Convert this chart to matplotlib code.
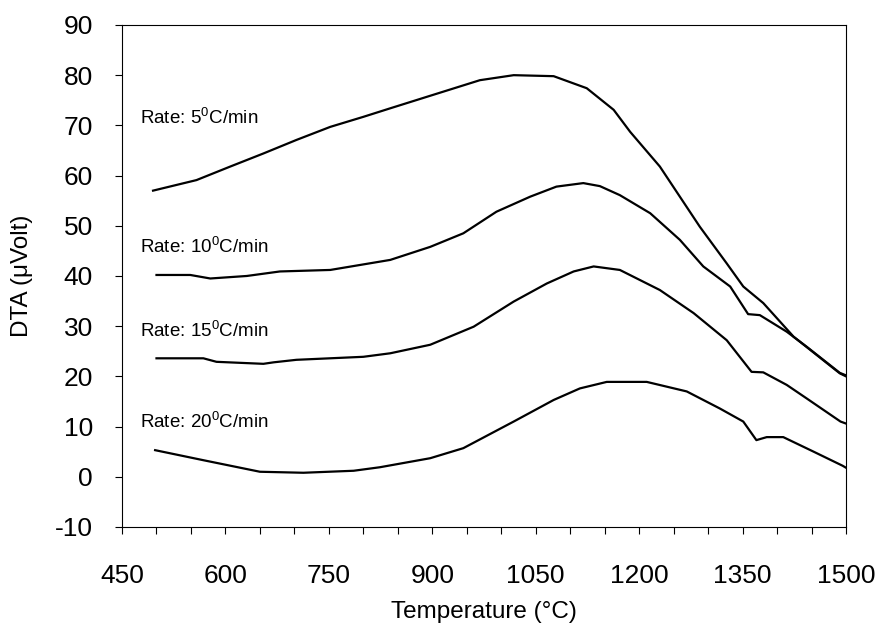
import numpy as np
import matplotlib
matplotlib.use("Agg")
import matplotlib.pyplot as plt
from matplotlib.ticker import MultipleLocator

plt.rcParams['font.family'] = ['Liberation Sans', 'DejaVu Sans']
plt.rcParams['mathtext.fontset'] = 'custom'
plt.rcParams['mathtext.rm'] = 'Liberation Sans'
plt.rcParams['axes.unicode_minus'] = False

# DTA curves (temperature in C, DTA in microvolt)
t_5 = [495, 558, 607, 655, 703, 752, 800, 839, 897, 969, 1018, 1076, 1124, 1163,
       1187, 1230, 1288, 1327, 1351, 1380, 1424, 1491, 1500]
dta_5 = [57.0, 59.1, 61.8, 64.4, 67.1, 69.7, 71.7, 73.4, 75.9, 79.0, 80.0, 79.8, 77.4, 73.1,
         68.7, 61.8, 49.8, 42.5, 37.9, 34.6, 27.9, 20.6, 20.0]

t_10 = [500, 549, 578, 631, 679, 752, 839, 897, 945, 993, 1042, 1080, 1119, 1143, 1172,
        1216, 1259, 1293, 1332, 1358, 1375, 1414, 1443, 1491, 1500]
dta_10 = [40.2, 40.2, 39.5, 40.0, 40.9, 41.2, 43.2, 45.8, 48.5, 52.8, 55.8, 57.8, 58.5, 57.9, 56.1,
          52.5, 47.2, 41.9, 37.9, 32.4, 32.2, 28.9, 25.9, 20.7, 20.2]

t_15 = [500, 568, 587, 655, 670, 703, 800, 839, 897, 960, 1018, 1066, 1105, 1134, 1172,
        1230, 1279, 1327, 1363, 1380, 1414, 1443, 1492, 1500]
dta_15 = [23.6, 23.6, 22.9, 22.5, 22.8, 23.3, 23.9, 24.6, 26.3, 29.9, 34.9, 38.5, 40.9, 41.9, 41.2,
          37.2, 32.6, 27.2, 20.9, 20.8, 18.3, 15.6, 11.0, 10.6]

t_20 = [498, 568, 650, 713, 786, 824, 897, 945, 1018, 1076, 1114, 1153, 1211, 1269,
        1317, 1351, 1370, 1385, 1409, 1453, 1495, 1500]
dta_20 = [5.3, 3.3, 1.0, 0.8, 1.2, 1.9, 3.7, 5.7, 11.0, 15.3, 17.6, 18.9, 18.9, 17.0,
          13.6, 11.0, 7.3, 7.9, 7.9, 5.0, 2.2, 1.8]

labels = ["Rate: 5$^0$C/min", "Rate: 10$^0$C/min", "Rate: 15$^0$C/min", "Rate: 20$^0$C/min"]
label_y = [71.5, 45.8, 29.2, 11.0]

fig = plt.figure(figsize=(8.81, 6.29), dpi=100)
ax = fig.add_axes([0.1385, 0.1622, 0.8218, 0.7981])

for t, d in [(t_5, dta_5), (t_10, dta_10), (t_15, dta_15), (t_20, dta_20)]:
	ax.plot(t, d, color='black', lw=1.6)

for lab, y in zip(labels, label_y):
	ax.text(476, y, lab, fontsize=13.5, va='center', ha='left')

ax.set_xlim(450, 1500)
ax.set_ylim(-10, 90)
ax.xaxis.set_major_locator(MultipleLocator(150))
ax.xaxis.set_minor_locator(MultipleLocator(50))
ax.yaxis.set_major_locator(MultipleLocator(10))
ax.tick_params(axis='x', which='both', direction='out', length=5, width=0.8, pad=22, labelsize=19)
ax.tick_params(axis='y', which='major', direction='out', length=5, width=0.8, pad=16, labelsize=19)

for s in ax.spines.values():
	s.set_linewidth(0.8)

ax.set_xlabel("Temperature (°C)", fontsize=17.5, labelpad=9)
ax.set_ylabel("DTA (μVolt)", fontsize=17.5)
ax.yaxis.set_label_coords(-0.123, 0.5)

fig.savefig("out.png", dpi=100)
